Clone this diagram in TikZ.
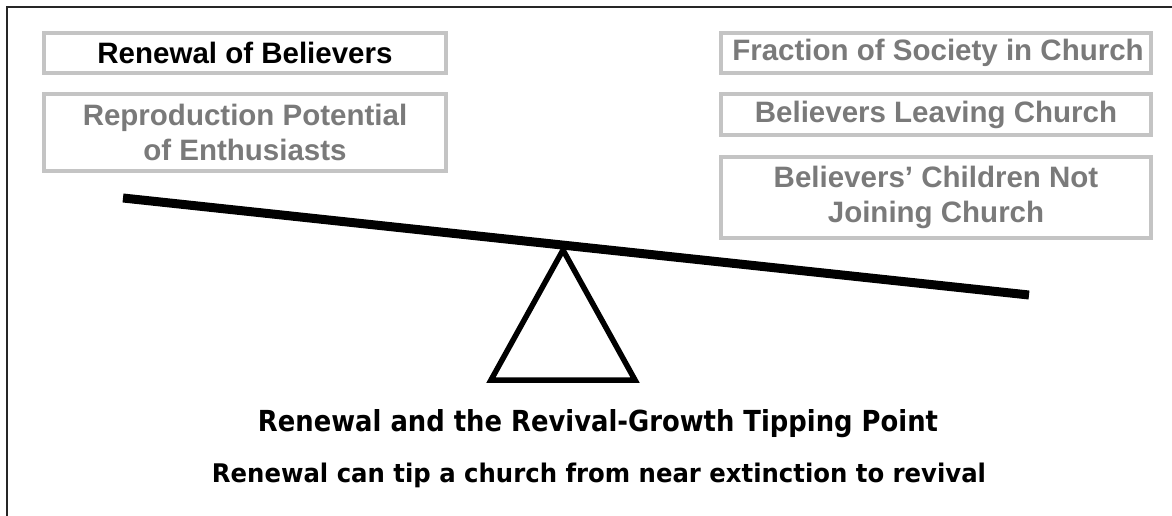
\documentclass[tikz,border=0pt]{standalone}
\usepackage{fontspec}
\setmainfont{Liberation Sans}
\newfontfamily\captionfont{DejaVu Sans}
\definecolor{boxgray}{HTML}{C4C4C4}
\definecolor{txtgray}{HTML}{7A7A7A}
\begin{document}
\begin{tikzpicture}[x=1pt,y=-1pt,
  labelbox/.style={draw=boxgray, line width=3.5pt, inner sep=0pt, align=center,
    font=\fontsize{29.5}{35}\selectfont\bfseries, text=txtgray},
  captiontext/.style={inner sep=0pt, text=black, anchor=base}
]
\useasboundingbox (0,0) rectangle (1172,516);
\draw[line width=2pt, draw=black!85] (7,516) -- (7,7) -- (1172,7);

\node[labelbox, text=black, minimum width=402pt, minimum height=40pt] (renew) at (245,53) {Renewal of Believers};
\node[labelbox, minimum width=402pt, minimum height=77pt] (repro) at (245,132.5) {Reproduction Potential\\of Enthusiasts};
\node[labelbox, minimum width=430pt, minimum height=40pt] (frac) at (936,53) {\hspace{4pt}Fraction of Society in Church};
\node[labelbox, minimum width=430pt, minimum height=41pt] (leave) at (936,114.5) {Believers Leaving Church};
\node[labelbox, minimum width=430pt, minimum height=81pt] (child) at (936,197.5) {Believers’ Children Not\\Joining Church};

\coordinate (apex) at (563,250);
\coordinate (baseL) at (491,380);
\coordinate (baseR) at (635,380);
\draw[line width=5.5pt, line join=miter] (apex) -- (baseL) -- (baseR) -- cycle;

\coordinate (beamL) at (123,198);
\coordinate (beamR) at (1029,295);
\draw[line width=9pt] (beamL) -- (beamR);

\node[captiontext] (title) at (598,431) {\resizebox{680pt}{22pt}{\captionfont\bfseries Renewal and the Revival-Growth Tipping Point}};
\node[captiontext] (sub) at (599,482) {\resizebox{774pt}{19.5pt}{\captionfont\bfseries Renewal can tip a church from near extinction to revival}};
\end{tikzpicture}
\end{document}
